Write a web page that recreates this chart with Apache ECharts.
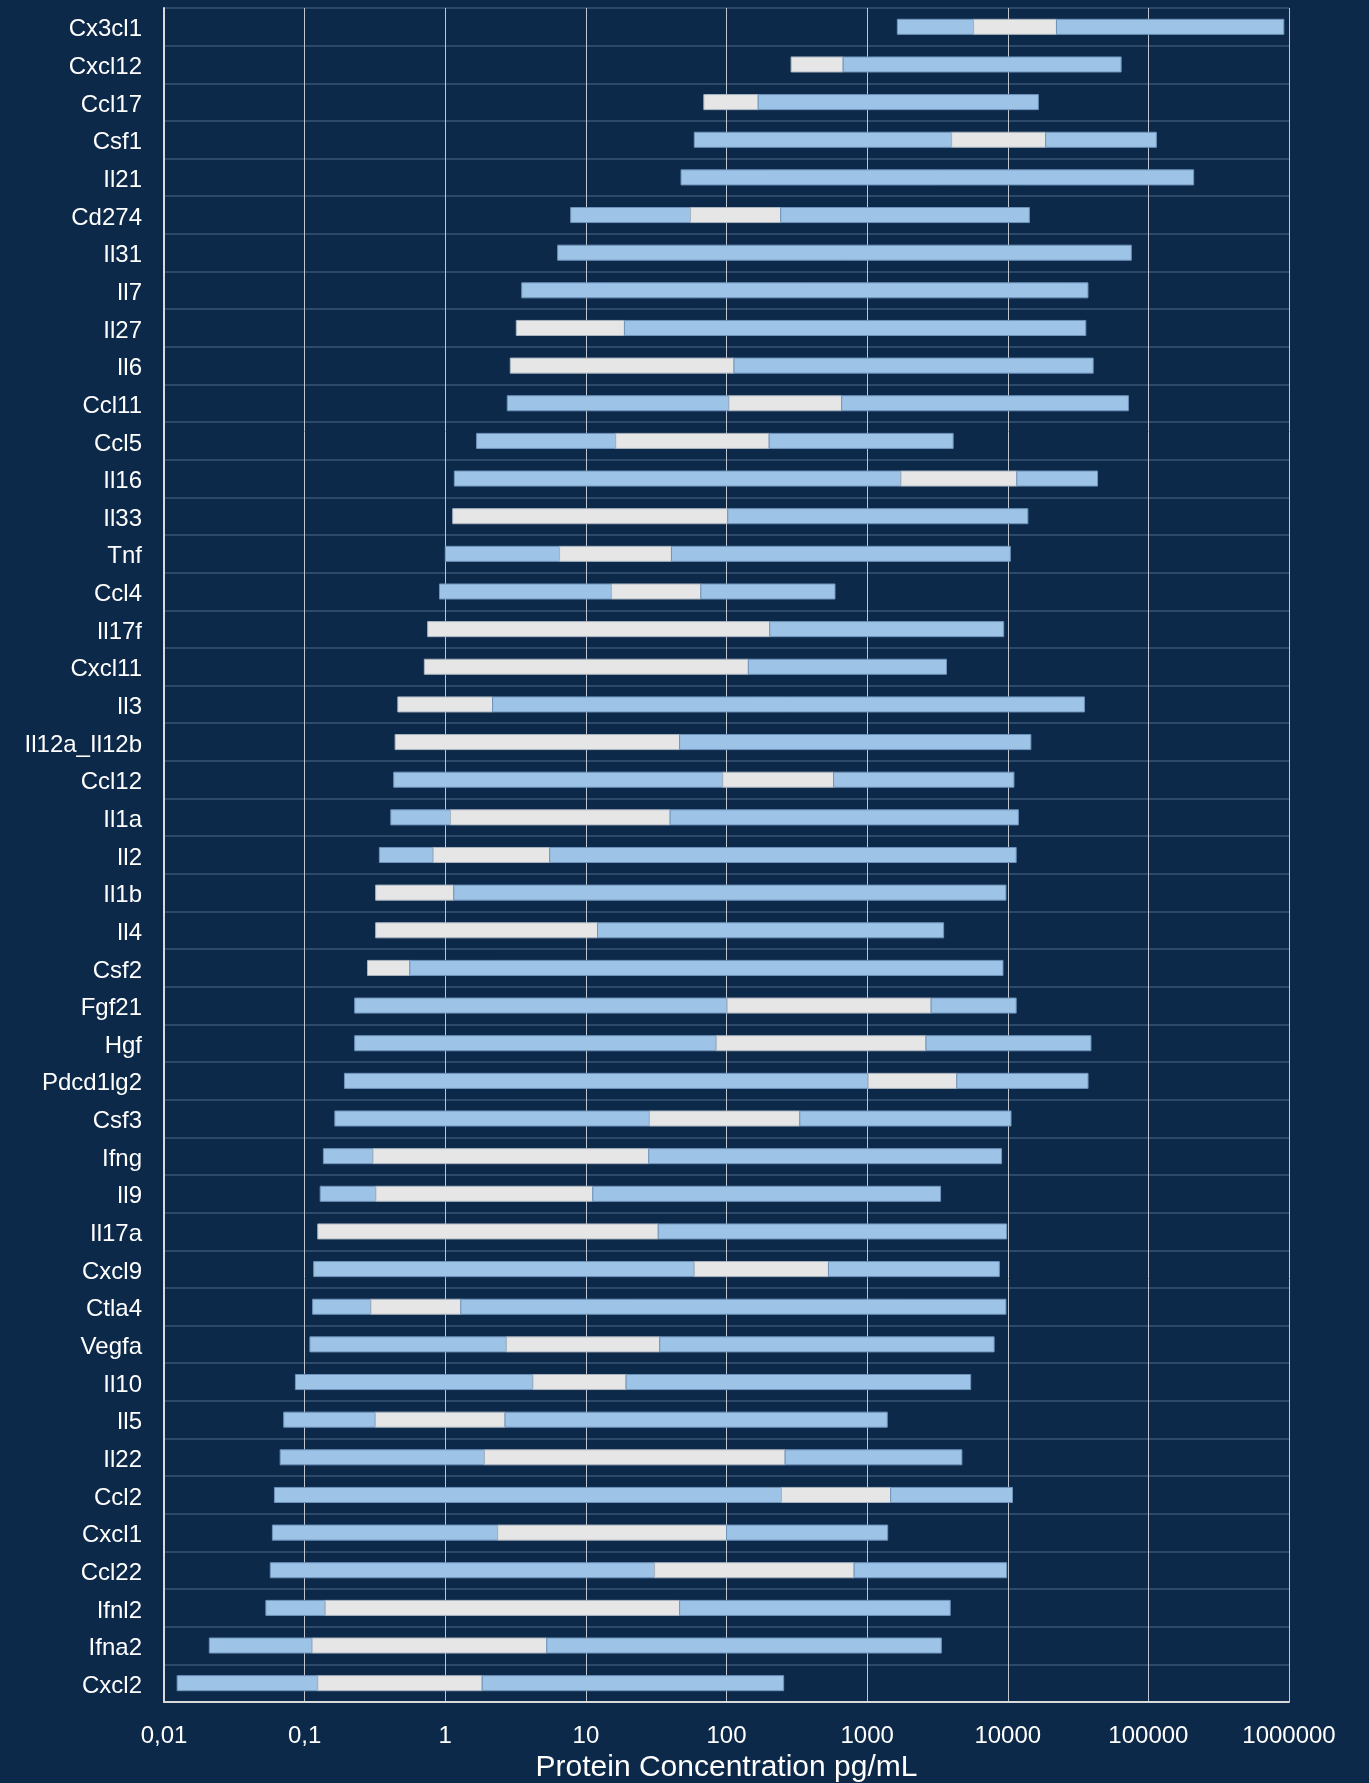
<!DOCTYPE html>
<html>
<head>
<meta charset="utf-8">
<script src="https://cdn.jsdelivr.net/npm/echarts/dist/echarts.min.js"></script>
<style>
  html, body { margin: 0; padding: 0; background: #0d2949; }
  #main { width: 1369px; height: 1783px; }
</style>
</head>
<body>
<div id="main"></div>
<script>
// proteins, top to bottom
var proteins = ['Cx3cl1','Cxcl12','Ccl17','Csf1','Il21','Cd274','Il31','Il7','Il27','Il6',
    'Ccl11','Ccl5','Il16','Il33','Tnf','Ccl4','Il17f','Cxcl11','Il3','Il12a_Il12b',
    'Ccl12','Il1a','Il2','Il1b','Il4','Csf2','Fgf21','Hgf','Pdcd1lg2','Csf3',
    'Ifng','Il9','Il17a','Cxcl9','Ctla4','Vegfa','Il10','Il5','Il22','Ccl2',
    'Cxcl1','Ccl22','Ifnl2','Ifna2','Cxcl2'];

// lower end of the bar (pg/mL)
var lowest = [1640, 288, 69, 59, 47.5, 7.8, 6.3, 3.5, 3.2, 2.9,
    2.76, 1.67, 1.16, 1.13, 1.0, 0.91, 0.75, 0.71, 0.46, 0.44,
    0.43, 0.41, 0.34, 0.32, 0.32, 0.28, 0.227, 0.227, 0.192, 0.164,
    0.136, 0.129, 0.124, 0.116, 0.114, 0.109, 0.086, 0.071, 0.067, 0.061,
    0.059, 0.057, 0.053, 0.021, 0.0124];

// start of the light grey part
var greyStart = [5720, 288, 69, 3990, 47.5, 55.5, 6.3, 3.5, 3.2, 2.9,
    104, 16.3, 1740, 1.13, 6.5, 15.2, 0.75, 0.71, 0.46, 0.44,
    94, 1.09, 0.82, 0.32, 0.32, 0.28, 101, 84.5, 1016, 28.3,
    0.306, 0.321, 0.124, 58.9, 0.296, 2.72, 4.2, 0.318, 1.9, 246,
    2.36, 30.8, 0.14, 0.113, 0.124];

// end of the light grey part
var greyEnd = [22200, 675, 168, 18600, 47.5, 243, 6.3, 3.5, 18.8, 113,
    659, 201, 11600, 102, 40.6, 65.7, 203, 143, 2.17, 46.4,
    577, 39.7, 5.53, 1.15, 12.1, 0.56, 2850, 2620, 4340, 332,
    28, 11.2, 32.7, 531, 1.29, 33.5, 19.3, 2.66, 261, 1470,
    100, 808, 46.4, 5.27, 1.83];

// upper end of the bar
var highest = [919000, 64000, 16500, 114000, 210000, 14250, 75600, 37200, 35900, 40500,
    72100, 4090, 43500, 13900, 10430, 591, 9360, 3670, 35100, 14600,
    11070, 11900, 11480, 9710, 3500, 9250, 11480, 39060, 37240, 10550,
    9040, 3330, 9820, 8710, 9710, 8000, 5450, 1390, 4720, 10810,
    1400, 9820, 3900, 3370, 255];

var xTicks = ['0,01','0,1','1','10','100','1000','10000','100000','1000000'];

var blue = '#9dc3e6';
var grey = '#e7e6e6';
var fontName = '"Liberation Sans", Arial, sans-serif';

var rows = [];
for (var i = 0; i < proteins.length; i++) {
    rows.push([i, lowest[i], greyStart[i], greyEnd[i], highest[i]]);
}

function drawRange(params, api) {
    var cat = api.value(0);
    var pts = [api.value(1), api.value(2), api.value(3), api.value(4)];
    var h = api.size([0, 1], [1, cat])[1] * 0.4;
    var colors = [blue, grey, blue];
    var kids = [];
    for (var k = 0; k < 3; k++) {
        if (pts[k + 1] <= pts[k]) continue;
        var p0 = api.coord([pts[k], cat]);
        var p1 = api.coord([pts[k + 1], cat]);
        kids.push({
            type: 'rect',
            shape: { x: p0[0], y: p0[1] - h / 2, width: p1[0] - p0[0], height: h },
            style: { fill: colors[k], stroke: k == 1 ? '#a9b4c0' : '#6f93bb', lineWidth: 1 }
        });
    }
    return { type: 'group', children: kids };
}

var myChart = echarts.init(document.getElementById('main'));
var option = {
    backgroundColor: '#0d2949',
    animation: false,
    grid: { left: 164, right: 80, top: 8, bottom: 81, outerBoundsMode: 'none' },
    xAxis: {
        type: 'log',
        logBase: 10,
        min: 0.01,
        max: 1000000,
        name: 'Protein Concentration pg/mL',
        nameLocation: 'middle',
        nameGap: 51,
        nameTextStyle: { color: '#ffffff', fontSize: 30, fontFamily: fontName },
        axisLine: { show: true, lineStyle: { color: '#d9d9d9', width: 2 } },
        axisTick: { show: false },
        axisLabel: {
            color: '#ffffff', fontSize: 24, fontFamily: fontName, margin: 22,
            formatter: function (v) {
                var idx = Math.round(Math.log(v) / Math.LN10) + 2;
                return xTicks[idx];
            }
        },
        splitLine: { show: true, lineStyle: { color: '#bfc6cf', width: 1 } }
    },
    yAxis: {
        type: 'category',
        inverse: true,
        data: proteins,
        axisLine: { show: true, lineStyle: { color: '#d9d9d9', width: 2 } },
        axisTick: { show: false },
        axisLabel: {
            margin: 22,
            formatter: '{p|{value}}',
            rich: { p: { color: '#ffffff', fontSize: 24, fontFamily: fontName, padding: [6, 0, 0, 0] } }
        },
        splitLine: { show: true, lineStyle: { color: '#2d4968', width: 2 } }
    },
    series: [{
        type: 'custom',
        renderItem: drawRange,
        encode: { x: [1, 2, 3, 4], y: 0 },
        data: rows
    }]
};
myChart.setOption(option);
</script>
</body>
</html>
